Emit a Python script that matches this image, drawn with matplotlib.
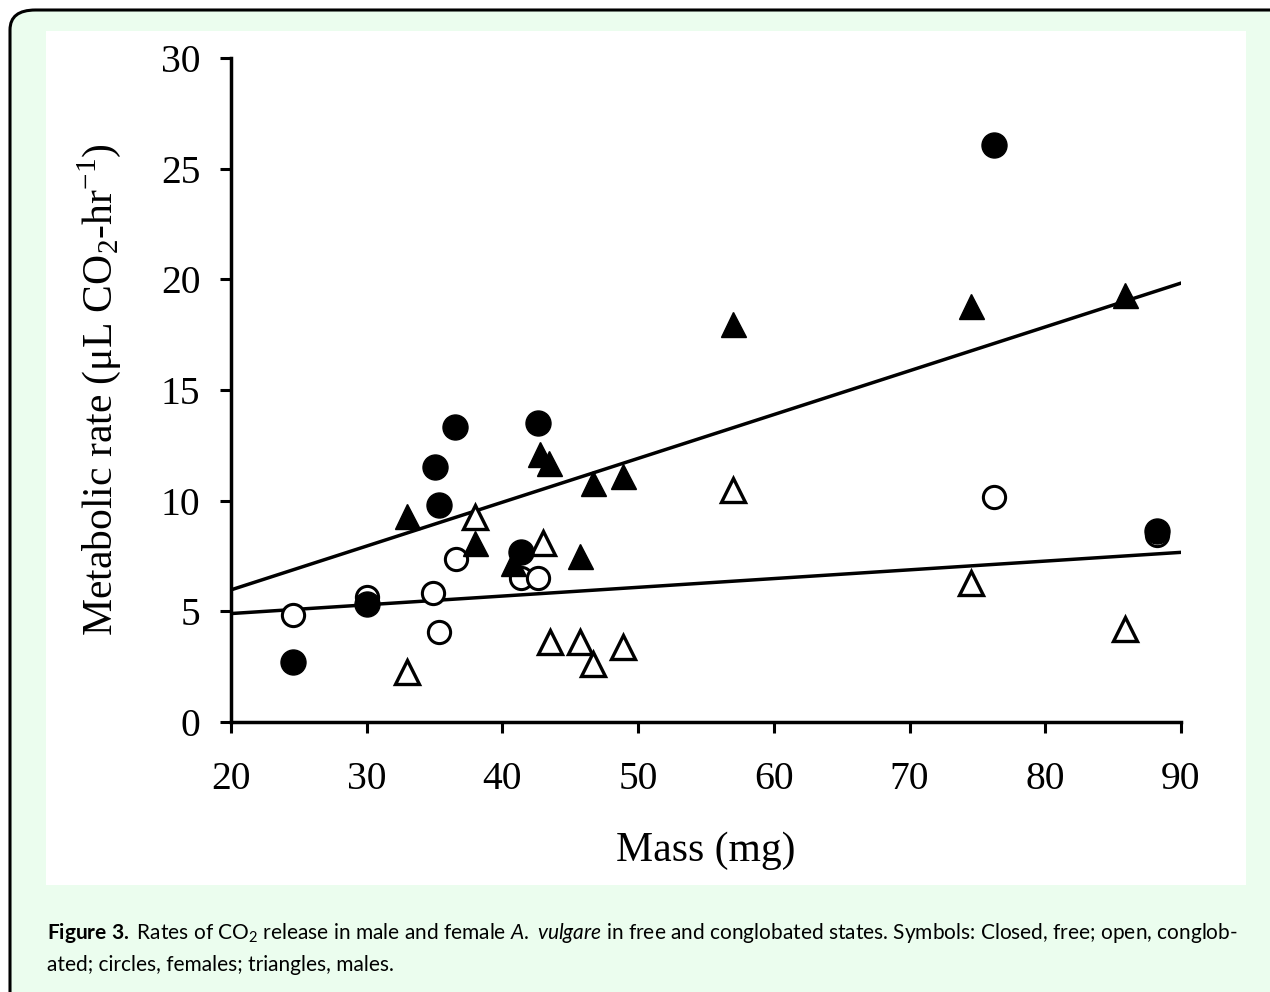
import matplotlib
matplotlib.use("Agg")
import matplotlib.pyplot as plt
import numpy as np
from matplotlib.patches import FancyBboxPatch, Rectangle

# mathtext fonts for the caption (Gill Sans look-alike)
plt.rcParams['mathtext.fontset'] = 'custom'
plt.rcParams['mathtext.rm'] = 'Lato'
plt.rcParams['mathtext.bf'] = 'Lato:bold'
plt.rcParams['mathtext.it'] = 'Lato:italic'

SERIF = 'Liberation Serif'

# Closed circles: free females
free_f_mass = [24.6, 30.0, 35.0, 35.3, 36.5, 42.6, 41.4, 76.2, 88.2]
free_f_rate = [2.7, 5.35, 11.5, 9.8, 13.35, 13.5, 7.7, 26.05, 8.65]

# Open circles: conglobated females
cong_f_mass = [24.6, 30.0, 34.9, 35.3, 36.6, 41.4, 42.6, 76.2, 88.2]
cong_f_rate = [4.85, 5.65, 5.85, 4.05, 7.35, 6.5, 6.5, 10.15, 8.45]

# Closed triangles: free males
free_m_mass = [33.0, 38.0, 40.8, 42.8, 43.4, 45.7, 46.7, 48.9, 57.0, 74.5, 85.9]
free_m_rate = [9.3, 8.1, 7.2, 12.1, 11.7, 7.5, 10.8, 11.1, 18.0, 18.8, 19.3]

# Open triangles: conglobated males
cong_m_mass = [33.0, 38.0, 43.0, 43.5, 45.7, 46.7, 48.9, 57.0, 74.5, 85.9]
cong_m_rate = [2.25, 9.25, 8.1, 3.6, 3.6, 2.6, 3.4, 10.5, 6.3, 4.2]

# regression lines (intercept at 20 mg, slope)
fit_upper = (5.97, 0.198)
fit_lower = (4.9, 0.0395)

fig = plt.figure(figsize=(12.7, 9.92), dpi=100)
fig.patch.set_facecolor('white')

W, H = 1270.0, 992.0

# green rounded frame
frame = FancyBboxPatch((10 / W, -0.2), 1.2, 1 - 10 / H + 0.2,
                       boxstyle="round,pad=0,rounding_size=0.02",
                       transform=fig.transFigure, facecolor='#ebfdee',
                       edgecolor='black', linewidth=2.2, zorder=-3)
fig.patches.append(frame)
panel = Rectangle((46 / W, 1 - 885 / H), 1200 / W, 854 / H,
                  transform=fig.transFigure, facecolor='white',
                  edgecolor='none', zorder=-2)
fig.patches.append(panel)

ax = fig.add_axes([231 / W, 1 - 722 / H, 950 / W, 664 / H])
ax.set_facecolor('none')

xs = np.array([20, 90])
ax.plot(xs, fit_upper[0] + fit_upper[1] * (xs - 20), color='black', lw=2.5, zorder=2)
ax.plot(xs, fit_lower[0] + fit_lower[1] * (xs - 20), color='black', lw=2.5, zorder=2)

ax.plot(cong_f_mass, cong_f_rate, 'o', ms=16, mfc='white', mec='black', mew=2.2,
        ls='none', zorder=3)
ax.plot(cong_m_mass, cong_m_rate, '^', ms=17, mfc='white', mec='black', mew=2.4,
        ls='none', zorder=3)
ax.plot(free_f_mass, free_f_rate, 'o', ms=18, mfc='black', mec='black', mew=1,
        ls='none', zorder=4)
ax.plot(free_m_mass, free_m_rate, '^', ms=18, mfc='black', mec='black', mew=1,
        ls='none', zorder=4)

ax.set_xlim(20, 90)
ax.set_ylim(0, 30)
ax.set_xticks(range(20, 91, 10))
ax.set_yticks(range(0, 31, 5))
for s in ['top', 'right']:
    ax.spines[s].set_visible(False)
for s in ['left', 'bottom']:
    ax.spines[s].set_linewidth(2.5)
ax.tick_params(direction='out', length=8, width=2.2, pad=14, labelsize=28.5)
for lab in ax.get_xticklabels() + ax.get_yticklabels():
    lab.set_family(SERIF)
ax.tick_params(axis='x', pad=20)

ax.set_xlabel('Mass (mg)', family=SERIF, fontsize=30, labelpad=24)
ax.set_ylabel(r'Metabolic rate (μL CO$_\mathregular{2}$-hr$^\mathregular{-1}$)',
              family=SERIF, fontsize=30, labelpad=27)

cap_size = 15
fig.text(47 / W, 1 - 939 / H,
         r'$\mathbf{Figure}$ $\mathbf{3.}$ Rates of CO$_2$ release in male and female '
         r'$\mathit{A.}$ $\mathit{vulgare}$ in free and conglobated states. Symbols: Closed, free; open, conglob-',
         family='Lato', fontsize=cap_size, va='baseline', ha='left')
fig.text(47 / W, 1 - 971 / H, 'ated; circles, females; triangles, males.',
         family='Lato', fontsize=cap_size, va='baseline', ha='left')

fig.savefig('out.png', dpi=100)
